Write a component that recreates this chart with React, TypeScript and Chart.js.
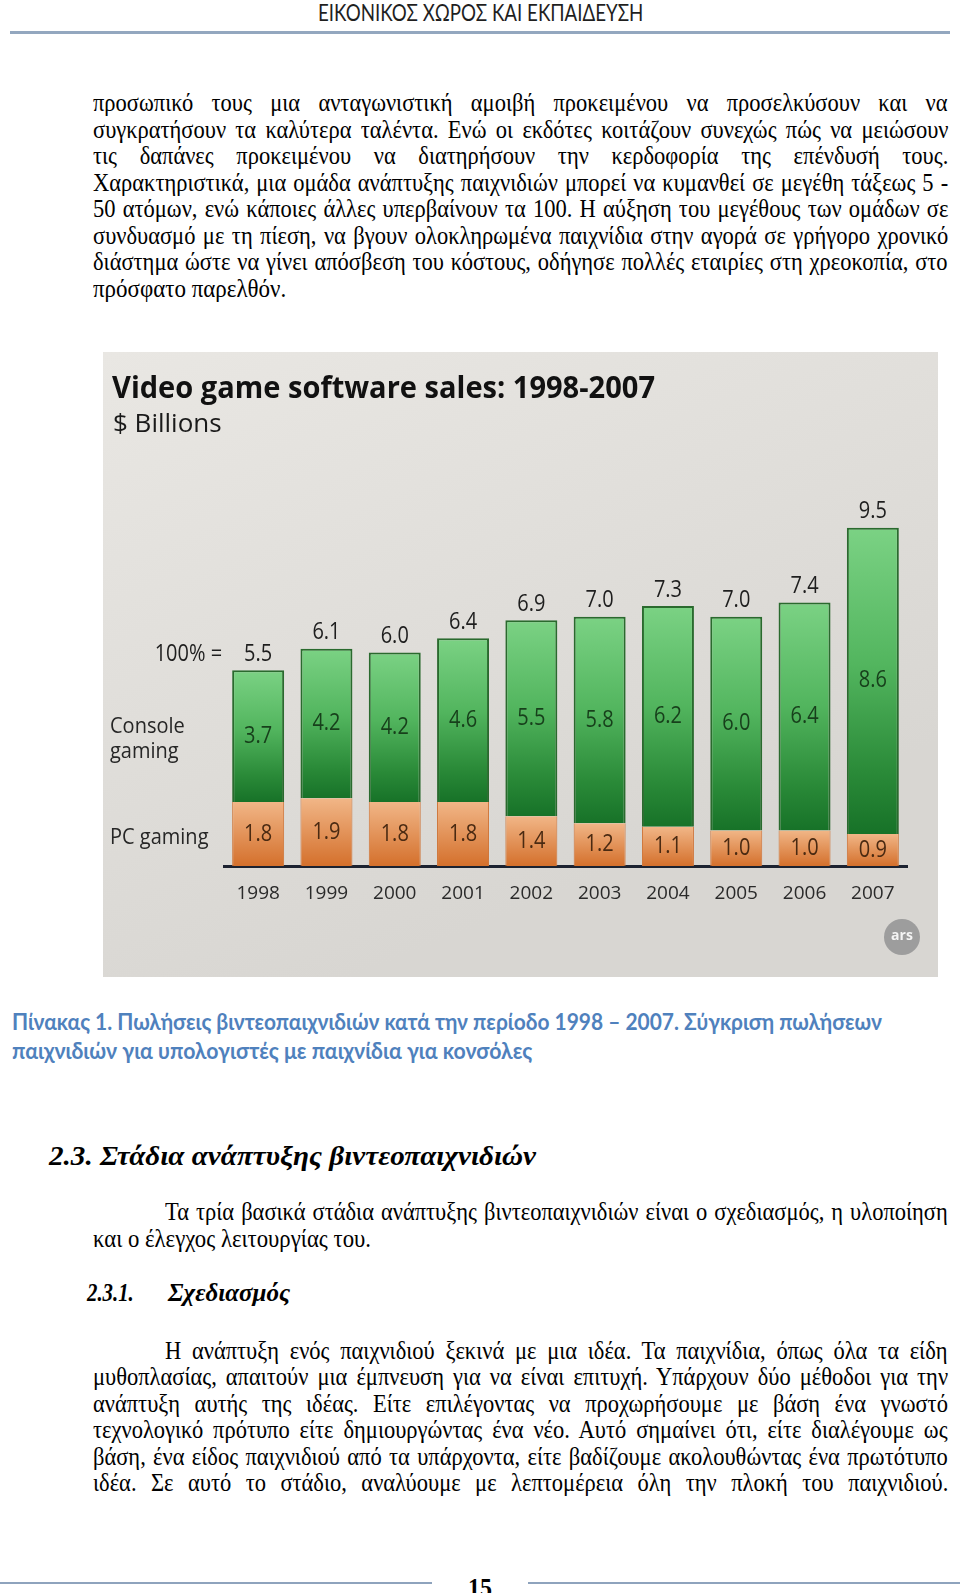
import React, { useEffect, useLayoutEffect, useRef } from 'react';
import { Chart, registerables } from 'chart.js';

Chart.register(...registerables);

// ---------- chart data ----------
const years = ['1998', '1999', '2000', '2001', '2002', '2003', '2004', '2005', '2006', '2007'];
const consoleSales = [3.7, 4.2, 4.2, 4.6, 5.5, 5.8, 6.2, 6.0, 6.4, 8.6];
const pcSales = [1.8, 1.9, 1.8, 1.8, 1.4, 1.2, 1.1, 1.0, 1.0, 0.9];
const totalSales = [5.5, 6.1, 6.0, 6.4, 6.9, 7.0, 7.3, 7.0, 7.4, 9.5];
const chartTitle = 'Video game software sales: 1998-2007';
const chartUnit = '$ Billions';
const consoleLabel = ['Console', 'gaming'];
const pcLabel = 'PC gaming';
const totalPrefix = '100% =';
const logoText = 'ars';

// ---------- page text ----------
const headerText = 'ΕΙΚΟΝΙΚΟΣ ΧΩΡΟΣ ΚΑΙ ΕΚΠΑΙΔΕΥΣΗ';
const para1 = [
  'προσωπικό τους μια ανταγωνιστική αμοιβή προκειμένου να προσελκύσουν και να',
  'συγκρατήσουν τα καλύτερα ταλέντα. Ενώ οι εκδότες κοιτάζουν συνεχώς πώς να μειώσουν',
  'τις δαπάνες προκειμένου να διατηρήσουν την κερδοφορία της επένδυσή τους.',
  'Χαρακτηριστικά, μια ομάδα ανάπτυξης παιχνιδιών μπορεί να κυμανθεί σε μεγέθη τάξεως 5 -',
  '50 ατόμων, ενώ κάποιες άλλες υπερβαίνουν τα 100. Η αύξηση του μεγέθους των ομάδων σε',
  'συνδυασμό με τη πίεση, να βγουν ολοκληρωμένα παιχνίδια στην αγορά σε γρήγορο χρονικό',
  'διάστημα ώστε να γίνει απόσβεση του κόστους, οδήγησε πολλές εταιρίες στη χρεοκοπία, στο',
  'πρόσφατο παρελθόν.',
];
const captionLines = [
  'Πίνακας 1. Πωλήσεις βιντεοπαιχνιδιών κατά την περίοδο 1998 – 2007. Σύγκριση πωλήσεων',
  'παιχνιδιών για υπολογιστές με παιχνίδια για κονσόλες',
];
const heading23 = '2.3. Στάδια ανάπτυξης βιντεοπαιχνιδιών';
const para2 = [
  'Τα τρία βασικά στάδια ανάπτυξης βιντεοπαιχνιδιών είναι ο σχεδιασμός, η υλοποίηση',
  'και ο έλεγχος λειτουργίας του.',
];
const heading231Num = '2.3.1.';
const heading231Text = 'Σχεδιασμός';
const para3 = [
  'Η ανάπτυξη ενός παιχνιδιού ξεκινά με μια ιδέα. Τα παιχνίδια, όπως όλα τα είδη',
  'μυθοπλασίας, απαιτούν μια έμπνευση για να είναι επιτυχή. Υπάρχουν δύο μέθοδοι για την',
  'ανάπτυξη αυτής της ιδέας. Είτε επιλέγοντας να προχωρήσουμε με βάση ένα γνωστό',
  'τεχνολογικό πρότυπο είτε δημιουργώντας ένα νέο. Αυτό σημαίνει ότι, είτε διαλέγουμε ως',
  'βάση, ένα είδος παιχνιδιού από τα υπάρχοντα, είτε βαδίζουμε ακολουθώντας ένα πρωτότυπο',
  'ιδέα. Σε αυτό το στάδιο, αναλύουμε με λεπτομέρεια όλη την πλοκή του παιχνιδιού.',
];
const pageNumber = '15';

// ---------- text line component ----------
type LineProps = {
  x: number;
  y: number;
  w?: number;
  text: string;
  ff: string;
  size: number;
  weight?: number | string;
  italic?: boolean;
  color?: string;
  sy?: number;
  mode?: 'justify' | 'fit' | 'none';
};

function Line(p: LineProps) {
  const ref = useRef<HTMLSpanElement>(null);
  const sy = p.sy ?? 1;
  useLayoutEffect(() => {
    const el = ref.current;
    if (!el) return;
    el.style.wordSpacing = '0px';
    el.style.transform = 'none';
    const nat = el.offsetWidth;
    let sx = 1;
    let ws = 0;
    if (p.mode === 'justify' && p.w) {
      const n = (p.text.match(/ /g) || []).length;
      const extra = p.w - nat;
      if (extra >= 0 && n > 0) ws = extra / n;
      else sx = p.w / nat;
    } else if (p.mode === 'fit' && p.w) {
      sx = p.w / nat;
    }
    el.style.wordSpacing = ws + 'px';
    el.style.transform = `scale(${sx}, ${sy})`;
  });
  const L = Math.round(p.size * 1.3);
  return (
    <span
      ref={ref}
      style={{
        position: 'absolute',
        left: p.x,
        top: p.y - L / 2,
        display: 'inline-block',
        whiteSpace: 'pre',
        fontFamily: p.ff,
        fontSize: p.size,
        lineHeight: L + 'px',
        fontWeight: p.weight ?? 400,
        fontStyle: p.italic ? 'italic' : 'normal',
        color: p.color ?? '#000',
        transformOrigin: '0 50%',
      }}
    >
      {p.text}
    </span>
  );
}

const SERIF = '"Liberation Serif", "Times New Roman", serif';
const SANS = 'Lato, "Open Sans", sans-serif';
const BODY = 22.5;
const BODY_SY = 1.12;

// ---------- chart ----------
const CHART_FONT = '"Open Sans", sans-serif';

function tallText(ctx: CanvasRenderingContext2D, text: string, x: number, y: number, sy: number) {
  ctx.save();
  ctx.translate(x, y);
  ctx.scale(1, sy);
  ctx.fillText(text, 0, 0);
  ctx.restore();
}

const chartPlugin = {
  id: 'pageChartDecor',
  beforeDraw(chart: any) {
    const { ctx, width, height } = chart;
    ctx.save();
    const g = ctx.createLinearGradient(0, 0, width * 0.3, height);
    g.addColorStop(0, '#e9e7e3');
    g.addColorStop(1, '#d8d6d2');
    ctx.fillStyle = g;
    ctx.fillRect(0, 0, width, height);

    ctx.fillStyle = '#111';
    ctx.textAlign = 'left';
    ctx.textBaseline = 'alphabetic';
    ctx.font = `bold 31px ${CHART_FONT}`;
    ctx.fillText(chartTitle, 9, 46, 543);
    ctx.fillStyle = '#1a1a1a';
    ctx.font = `26px ${CHART_FONT}`;
    ctx.fillText(chartUnit, 10, 80);

    ctx.fillStyle = '#262626';
    ctx.font = `20px ${CHART_FONT}`;
    ctx.textBaseline = 'middle';
    tallText(ctx, consoleLabel[0], 7, 375, 1.1);
    tallText(ctx, consoleLabel[1], 7, 400, 1.1);
    tallText(ctx, pcLabel, 7, 486, 1.1);

    // logo
    ctx.beginPath();
    ctx.fillStyle = '#9d9d9d';
    ctx.arc(799, 585, 18, 0, Math.PI * 2);
    ctx.fill();
    ctx.fillStyle = '#f4f4f4';
    ctx.font = `bold 14px ${CHART_FONT}`;
    ctx.textAlign = 'center';
    ctx.fillText(logoText, 799, 584);
    ctx.restore();
  },
  afterDatasetsDraw(chart: any) {
    const { ctx } = chart;
    const pcMeta = chart.getDatasetMeta(0);
    const conMeta = chart.getDatasetMeta(1);
    ctx.save();
    ctx.textAlign = 'center';
    ctx.textBaseline = 'middle';
    ctx.font = `20px ${CHART_FONT}`;
    for (let i = 0; i < years.length; i++) {
      const pc = pcMeta.data[i];
      const con = conMeta.data[i];
      ctx.fillStyle = '#1e1e1e';
      tallText(ctx, totalSales[i].toFixed(1), con.x, con.y - 16, 1.15);
      if (i === 0) {
        ctx.textAlign = 'right';
        tallText(ctx, totalPrefix, con.x - 36, con.y - 16, 1.15);
        ctx.textAlign = 'center';
      }
      ctx.fillStyle = '#173f1b';
      tallText(ctx, consoleSales[i].toFixed(1), con.x, (con.y + con.base) / 2, 1.15);
      ctx.fillStyle = '#4a2a12';
      tallText(ctx, pcSales[i].toFixed(1), pc.x, (pc.y + pc.base) / 2, 1.15);
    }
    ctx.restore();
  },
};

function consoleFill(c: any) {
  const chart = c.chart;
  const { ctx, chartArea, scales } = chart;
  if (!chartArea || c.type !== 'data' || !scales.y) return '#3f9f4a';
  const i = c.dataIndex;
  const top = scales.y.getPixelForValue(pcSales[i] + consoleSales[i]);
  const bot = scales.y.getPixelForValue(pcSales[i]);
  const g = ctx.createLinearGradient(0, top, 0, bot);
  g.addColorStop(0, '#7bd284');
  g.addColorStop(0.45, '#52b55e');
  g.addColorStop(0.8, '#2a8a38');
  g.addColorStop(1, '#177228');
  return g;
}

function pcFill(c: any) {
  const chart = c.chart;
  const { ctx, chartArea, scales } = chart;
  if (!chartArea || c.type !== 'data' || !scales.y) return '#e39055';
  const i = c.dataIndex;
  const top = scales.y.getPixelForValue(pcSales[i]);
  const bot = scales.y.getPixelForValue(0);
  const g = ctx.createLinearGradient(0, top, 0, bot);
  g.addColorStop(0, '#f1b687');
  g.addColorStop(1, '#d4702c');
  return g;
}

export default function App() {
  const canvasRef = useRef<HTMLCanvasElement>(null);

  useEffect(() => {
    if (!canvasRef.current) return;
    const chart = new Chart(canvasRef.current, {
      type: 'bar',
      data: {
        labels: years,
        datasets: [
          {
            label: pcLabel,
            data: pcSales,
            backgroundColor: pcFill,
            borderColor: '#cf7437',
            borderWidth: { top: 0, left: 1, right: 1, bottom: 0 },
            borderSkipped: false,
            categoryPercentage: 1,
            barPercentage: 0.761,
          },
          {
            label: consoleLabel.join(' '),
            data: consoleSales,
            backgroundColor: consoleFill,
            borderColor: '#2a6a2e',
            borderWidth: { top: 2, left: 2, right: 2, bottom: 0 },
            borderSkipped: false,
            categoryPercentage: 1,
            barPercentage: 0.761,
          },
        ],
      },
      options: {
        responsive: false,
        maintainAspectRatio: false,
        animation: false,
        layout: { padding: { left: 121, right: 31, top: 158, bottom: 0 } },
        plugins: {
          legend: { display: false },
          tooltip: { enabled: false },
          title: { display: false },
        },
        scales: {
          x: {
            stacked: true,
            offset: true,
            grid: { display: false, drawTicks: false },
            border: { display: true, color: '#1c2230', width: 3 },
            ticks: {
              color: '#2a2a2a',
              font: { family: CHART_FONT, size: 19 },
              padding: 16,
            },
            afterFit: (s: any) => {
              s.height = 111;
            },
          },
          y: { stacked: true, display: false, min: 0, max: 10 },
        },
      },
      plugins: [chartPlugin],
    } as any);
    return () => chart.destroy();
  }, []);

  const p1y = [102.6, 129, 155.4, 182, 208.5, 235, 261.5, 288];
  const p3y = [1350, 1376.5, 1403, 1429.4, 1456, 1482];

  return (
    <div
      style={{
        position: 'absolute',
        left: 0,
        top: 0,
        width: 960,
        height: 1593,
        background: '#fff',
        overflow: 'hidden',
      }}
    >
      {/* header */}
      <Line x={318} y={12} w={325} text={headerText} ff={SANS} size={20} color="#1f1f1f" mode="fit" sy={1.15} />
      <div style={{ position: 'absolute', left: 10, top: 31, width: 940, height: 3, background: '#93a7bf' }} />

      {/* paragraph 1 */}
      {para1.map((t, i) => (
        <Line
          key={'p1' + i}
          x={93}
          y={p1y[i]}
          w={i === para1.length - 1 ? 193 : 855}
          text={t}
          ff={SERIF}
          size={BODY}
          sy={BODY_SY}
          mode={i === para1.length - 1 ? 'fit' : 'justify'}
        />
      ))}

      {/* chart image */}
      <canvas
        ref={canvasRef}
        width={835}
        height={625}
        style={{ position: 'absolute', left: 103, top: 352, width: 835, height: 625 }}
      />

      {/* caption */}
      <Line x={12} y={1021} w={870} text={captionLines[0]} ff={SANS} size={20} weight={700} color="#4f81bd" mode="fit" sy={1.12} />
      <Line x={12} y={1049.5} w={520} text={captionLines[1]} ff={SANS} size={20} weight={700} color="#4f81bd" mode="fit" sy={1.12} />

      {/* heading 2.3 */}
      <Line x={49} y={1155} w={487} text={heading23} ff={SERIF} size={25} weight={700} italic mode="fit" sy={1.12} />

      {/* paragraph 2 */}
      <Line x={165} y={1211} w={783} text={para2[0]} ff={SERIF} size={BODY} sy={BODY_SY} mode="justify" />
      <Line x={93} y={1238} w={278} text={para2[1]} ff={SERIF} size={BODY} sy={BODY_SY} mode="fit" />

      {/* heading 2.3.1 */}
      <Line x={87} y={1293} w={47} text={heading231Num} ff={SERIF} size={23} weight={700} italic mode="fit" sy={1.12} />
      <Line x={168} y={1293} w={122} text={heading231Text} ff={SERIF} size={23} weight={700} italic mode="fit" sy={1.12} />

      {/* paragraph 3 */}
      {para3.map((t, i) => (
        <Line
          key={'p3' + i}
          x={i === 0 ? 165 : 93}
          y={p3y[i]}
          w={i === 0 ? 783 : 855}
          text={t}
          ff={SERIF}
          size={BODY}
          sy={BODY_SY}
          mode="justify"
        />
      ))}

      {/* footer */}
      <div style={{ position: 'absolute', left: 0, top: 1582, width: 432, height: 2, background: '#8ea3bd' }} />
      <div style={{ position: 'absolute', left: 528, top: 1582, width: 432, height: 2, background: '#8ea3bd' }} />
      <Line x={468} y={1588} w={24} text={pageNumber} ff={SERIF} size={24} weight={700} mode="fit" sy={1.1} />
    </div>
  );
}
